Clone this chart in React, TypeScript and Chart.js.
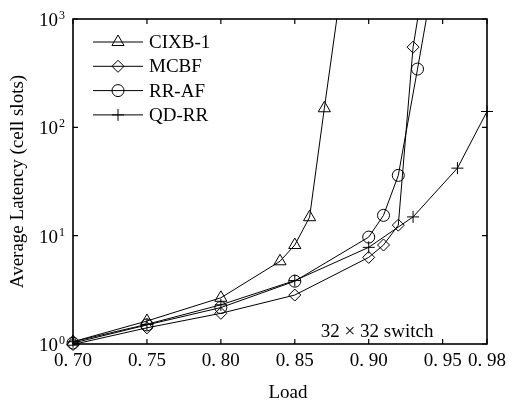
import React, { useEffect, useRef } from 'react';
import { Chart, registerables } from 'chart.js';

Chart.register(...registerables);

const X_TICKS = [0.7, 0.75, 0.8, 0.85, 0.9, 0.95, 0.98];
const X_TICK_LABELS = ['0. 70', '0. 75', '0. 80', '0. 85', '0. 90', '0. 95', '0. 98'];
const Y_TICKS = [1, 10, 100, 1000];
const Y_TICK_EXPONENTS = ['0', '1', '2', '3'];

const SERIES_NAMES = ['CIXB-1', 'MCBF', 'RR-AF', 'QD-RR'];
const SERIES_MARKERS = ['triangle', 'rectRot', 'circle', 'cross'];
const SERIES_RADII = [7, 6, 6, 6];

const CIXB_LOAD = [0.7, 0.75, 0.8, 0.84, 0.85, 0.86, 0.87, 0.88];
const CIXB_LATENCY = [1.05, 1.63, 2.67, 5.8, 8.2, 14.8, 150, 1430];
const MCBF_LOAD = [0.7, 0.75, 0.8, 0.85, 0.9, 0.91, 0.92, 0.93, 0.94];
const MCBF_LATENCY = [0.99, 1.41, 1.92, 2.83, 6.3, 8.2, 12.5, 550, 3800];
const RRAF_LOAD = [0.7, 0.75, 0.8, 0.85, 0.9, 0.91, 0.92, 0.933, 0.94];
const RRAF_LATENCY = [1.02, 1.5, 2.17, 3.8, 9.7, 15.4, 36, 345, 1200];
const QDRR_LOAD = [0.7, 0.75, 0.8, 0.85, 0.9, 0.93, 0.96, 0.98];
const QDRR_LATENCY = [1.05, 1.52, 2.3, 3.85, 7.8, 14.9, 42, 140];

const X_TITLE = 'Load';
const Y_TITLE = 'Average Latency (cell slots)';
const NOTE = '32 × 32 switch';

const FONT = "'Liberation Serif', 'Times New Roman', serif";

function zip(xs: number[], ys: number[]) {
  return xs.map((x, i) => ({ x, y: ys[i] }));
}

function drawMarker(ctx: CanvasRenderingContext2D, style: string, x: number, y: number, r: number) {
  ctx.beginPath();
  if (style === 'circle') {
    ctx.arc(x, y, r, 0, Math.PI * 2);
  } else if (style === 'triangle') {
    ctx.moveTo(x, y - r);
    ctx.lineTo(x + 0.866 * r, y + 0.5 * r);
    ctx.lineTo(x - 0.866 * r, y + 0.5 * r);
    ctx.closePath();
  } else if (style === 'rectRot') {
    ctx.moveTo(x, y - r);
    ctx.lineTo(x + r, y);
    ctx.lineTo(x, y + r);
    ctx.lineTo(x - r, y);
    ctx.closePath();
  } else if (style === 'cross') {
    ctx.moveTo(x, y - r);
    ctx.lineTo(x, y + r);
    ctx.moveTo(x - r, y);
    ctx.lineTo(x + r, y);
  }
  ctx.stroke();
}

const framePlugin = {
  id: 'framePlugin',
  afterDatasetsDraw(chart: any) {
    const { ctx, chartArea } = chart;
    const xs = chart.scales.x;
    const ys = chart.scales.y;
    const { left, right, top, bottom } = chartArea;
    ctx.save();
    ctx.strokeStyle = '#000';
    ctx.fillStyle = '#000';
    ctx.lineWidth = 1.6;
    ctx.strokeRect(left, top, right - left, bottom - top);

    ctx.lineWidth = 1.2;
    const tl = 5;
    X_TICKS.forEach((v) => {
      const px = xs.getPixelForValue(v);
      ctx.beginPath();
      ctx.moveTo(px, bottom);
      ctx.lineTo(px, bottom - tl);
      ctx.moveTo(px, top);
      ctx.lineTo(px, top + tl);
      ctx.stroke();
    });
    Y_TICKS.forEach((v, i) => {
      const py = ys.getPixelForValue(v);
      ctx.beginPath();
      ctx.moveTo(left, py);
      ctx.lineTo(left + tl, py);
      ctx.moveTo(right, py);
      ctx.lineTo(right - tl, py);
      ctx.stroke();
      ctx.textBaseline = 'alphabetic';
      ctx.font = `19px ${FONT}`;
      ctx.textAlign = 'right';
      ctx.fillText('10', left - 15, py + 7);
      ctx.font = `12px ${FONT}`;
      ctx.textAlign = 'left';
      ctx.fillText(Y_TICK_EXPONENTS[i], left - 14, py);
    });

    // x-axis title
    ctx.font = `19px ${FONT}`;
    ctx.textAlign = 'center';
    ctx.textBaseline = 'alphabetic';
    ctx.fillText(X_TITLE, (left + right) / 2 + 8, bottom + 54);

    // legend
    ctx.lineWidth = 1;
    ctx.textAlign = 'left';
    ctx.textBaseline = 'middle';
    SERIES_NAMES.forEach((name, i) => {
      const ly = top + 23 + i * 24.3;
      const lx0 = left + 20;
      const lx1 = left + 70;
      ctx.beginPath();
      ctx.moveTo(lx0, ly);
      ctx.lineTo(lx1, ly);
      ctx.stroke();
      drawMarker(ctx, SERIES_MARKERS[i], (lx0 + lx1) / 2, ly, SERIES_RADII[i]);
      ctx.fillText(name, lx1 + 6, ly + 1);
    });

    // annotation
    ctx.textAlign = 'left';
    ctx.fillText(NOTE, xs.getPixelForValue(0.8676), ys.getPixelForValue(1.29));
    ctx.restore();
  },
};

export default function App() {
  const ref = useRef<HTMLCanvasElement | null>(null);
  useEffect(() => {
    if (!ref.current) return;
    const series = [
      zip(CIXB_LOAD, CIXB_LATENCY),
      zip(MCBF_LOAD, MCBF_LATENCY),
      zip(RRAF_LOAD, RRAF_LATENCY),
      zip(QDRR_LOAD, QDRR_LATENCY),
    ];
    const chart = new Chart(ref.current, {
      type: 'line',
      data: {
        datasets: series.map((d, i) => ({
          label: SERIES_NAMES[i],
          data: d,
          borderColor: '#000',
          borderWidth: 1,
          pointStyle: SERIES_MARKERS[i] as any,
          pointRadius: SERIES_RADII[i],
          pointBorderColor: '#000',
          pointBorderWidth: 1,
          pointBackgroundColor: 'rgba(0,0,0,0)',
          tension: 0,
          clip: { left: 14, right: 14, bottom: 14, top: 0 } as any,
        })),
      },
      options: {
        animation: false,
        responsive: false,
        events: [],
        layout: { padding: { top: 19, right: 24, left: 0, bottom: 0 } },
        plugins: { legend: { display: false }, tooltip: { enabled: false } },
        scales: {
          x: {
            type: 'linear',
            min: 0.7,
            max: 0.98,
            grid: { display: false, drawTicks: false },
            border: { display: false },
            afterBuildTicks: (s: any) => {
              s.ticks = X_TICKS.map((value) => ({ value }));
            },
            afterFit: (s: any) => {
              s.height = 56;
            },
            ticks: {
              autoSkip: false,
              maxRotation: 0,
              padding: 6,
              color: '#000',
              font: { family: FONT, size: 19 },
              callback: (_v: any, i: number) => X_TICK_LABELS[i],
            },
            title: { display: false },
          },
          y: {
            type: 'logarithmic',
            min: 1,
            max: 1000,
            grid: { display: false, drawTicks: false },
            border: { display: false },
            ticks: { display: false },
            afterFit: (s: any) => {
              s.width = 73;
            },
            title: {
              display: true,
              text: Y_TITLE,
              color: '#000',
              font: { family: FONT, size: 19 },
              padding: { top: 7, bottom: 0 },
            },
          },
        },
      },
      plugins: [framePlugin],
    });
    return () => chart.destroy();
  }, []);
  return (
    <div style={{ position: 'fixed', left: 0, top: 0, width: 512, height: 400, background: '#fff' }}>
      <canvas ref={ref} width={512} height={400} style={{ display: 'block' }} />
    </div>
  );
}
